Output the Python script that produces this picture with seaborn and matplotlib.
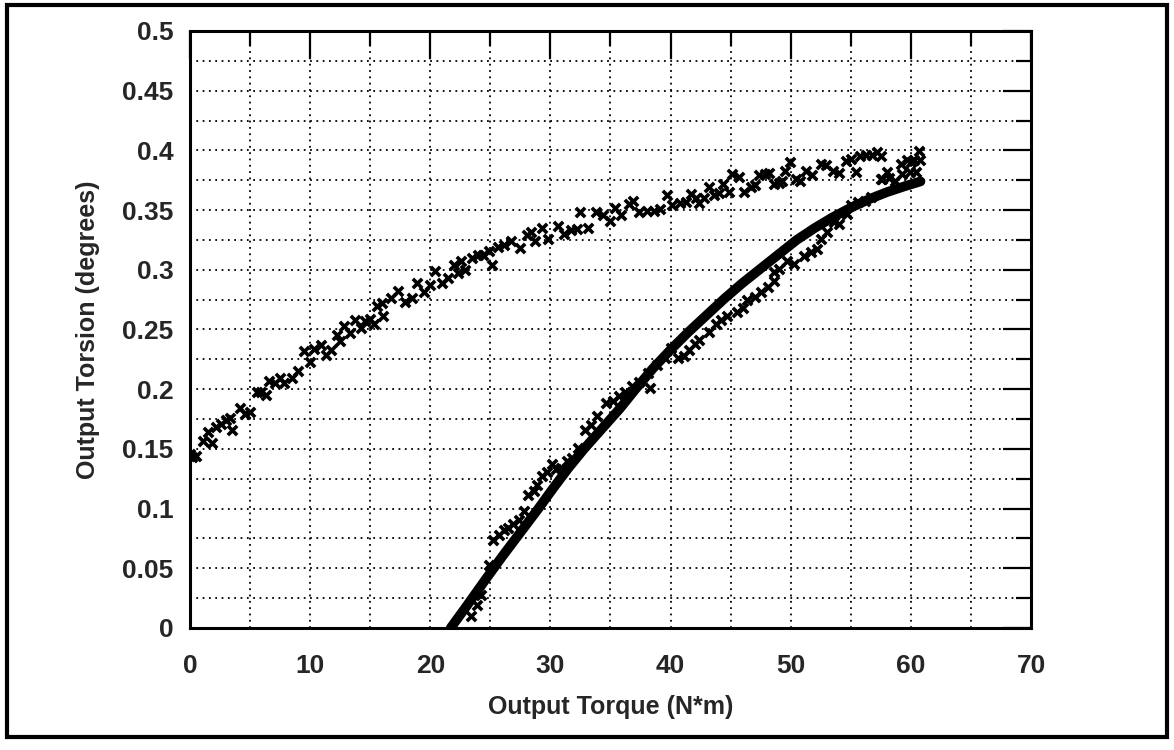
import matplotlib
matplotlib.use("Agg")
import matplotlib.pyplot as plt
import seaborn as sns
import numpy as np
import pandas as pd
from matplotlib.patches import Rectangle
from matplotlib.ticker import MultipleLocator

# --- values ---
# unloading branch (upper band of x marks)
upper_torque = [0.0, 0.2, 0.5, 1.06, 1.5, 1.8, 2.2, 2.6, 3.0, 3.3, 3.5, 4.2, 4.6, 5.0,
                5.6, 5.9, 6.3, 6.6, 7.1, 7.5, 7.8, 8.5, 9.0, 9.5, 10.0, 10.3, 10.9, 11.3,
                11.7, 12.2, 12.5, 12.8, 13.3, 13.75, 14.2, 14.6, 15.0, 15.3, 15.6, 16.0,
                16.1, 16.7, 17.3, 17.9, 18.5, 18.9, 19.5, 20.0, 20.4, 21.0, 21.5, 22.0,
                22.3, 22.6, 22.9, 23.5, 24.0, 24.4, 24.9, 25.1, 25.6, 26.1, 26.7, 27.5,
                28.05, 28.4, 28.7, 29.3, 29.8, 30.6, 31.1, 31.7, 32.2, 32.5, 33.1, 33.8,
                34.4, 35.0, 35.4, 35.9, 36.5, 36.9, 37.4, 38.0, 38.6, 39.1, 39.7, 40.1,
                40.8, 41.25, 41.7, 42.1, 42.4, 42.8, 43.2, 43.6, 44.0, 44.4, 44.9, 45.1,
                45.7, 46.1, 46.7, 47.0, 47.4, 47.9, 48.2, 48.6, 49.0, 49.3, 49.5, 49.9,
                50.4, 50.8, 51.25, 51.8, 52.5, 52.9, 53.5, 54.0, 54.6, 55.0, 55.4, 55.8,
                56.3, 56.8, 57.2, 57.5]
upper_torsion = [0.146, 0.143, 0.144, 0.157, 0.164, 0.155, 0.168, 0.171, 0.174, 0.176, 0.166,
                 0.184, 0.179, 0.181, 0.198, 0.198, 0.195, 0.207, 0.205, 0.209, 0.205, 0.209,
                 0.215, 0.232, 0.223, 0.234, 0.237, 0.229, 0.233, 0.2455, 0.240, 0.2525,
                 0.247, 0.258, 0.251, 0.257, 0.259, 0.255, 0.270, 0.272, 0.261, 0.276,
                 0.282, 0.273, 0.276, 0.289, 0.281, 0.287, 0.299, 0.289, 0.293, 0.304,
                 0.297, 0.307, 0.300, 0.310, 0.312, 0.312, 0.316, 0.304, 0.319, 0.3205,
                 0.324, 0.318, 0.3295, 0.332, 0.324, 0.335, 0.326, 0.337, 0.330, 0.333,
                 0.334, 0.348, 0.335, 0.348, 0.346, 0.341, 0.352, 0.346, 0.355, 0.358,
                 0.348, 0.349, 0.3495, 0.3505, 0.363, 0.3545, 0.356, 0.357, 0.3636, 0.360,
                 0.356, 0.360, 0.369, 0.3625, 0.364, 0.372, 0.365, 0.380, 0.378, 0.3655,
                 0.369, 0.371, 0.379, 0.380, 0.381, 0.372, 0.373, 0.374, 0.383, 0.390,
                 0.376, 0.374, 0.383, 0.379, 0.3886, 0.388, 0.383, 0.381, 0.3914, 0.393,
                 0.382, 0.3956, 0.396, 0.396, 0.399, 0.395]

# loading branch (lower band of x marks)
lower_torque = [23.4, 23.9, 24.25, 24.9, 25.2, 25.7, 26.1, 26.5, 26.9, 27.4, 27.8, 28.1,
                28.6, 28.9, 29.3, 29.75, 30.1, 30.5, 30.9, 31.4, 31.8, 32.3, 32.9, 33.4,
                33.9, 34.6, 35.2, 35.7, 36.25, 36.8, 37.4, 38.1, 38.3, 38.9, 39.5, 40.0,
                40.6, 41.1, 41.5, 42.0, 42.4, 43.2, 43.75, 44.2, 44.7, 45.55, 46.0, 46.4,
                47.0, 47.5, 48.1, 48.6, 48.6, 49.0, 49.7, 50.3, 51.1, 51.7, 52.2, 52.5,
                53.0, 53.6, 54.0, 54.7, 55.0, 55.6, 56.2, 56.7, 57.5, 58.0, 58.7, 59.3,
                59.9, 60.4, 60.0, 60.3, 60.7, 60.8, 57.6, 58.2, 59.2, 59.7]
lower_torsion = [0.010, 0.019, 0.028, 0.0525, 0.074, 0.0775, 0.0817, 0.084, 0.087, 0.0905,
                 0.098, 0.111, 0.115, 0.120, 0.1275, 0.131, 0.137, 0.133, 0.134, 0.140,
                 0.1425, 0.151, 0.166, 0.170, 0.1775, 0.1886, 0.190, 0.194, 0.198, 0.2025,
                 0.206, 0.2136, 0.201, 0.2206, 0.226, 0.2345, 0.226, 0.2275, 0.233, 0.238,
                 0.2414, 0.2475, 0.2545, 0.258, 0.261, 0.265, 0.268, 0.2747, 0.2775,
                 0.2817, 0.2858, 0.2906, 0.2978, 0.301, 0.307, 0.305, 0.3117, 0.315,
                 0.3178, 0.326, 0.332, 0.340, 0.3386, 0.347, 0.354, 0.357, 0.358, 0.361,
                 0.376, 0.3817, 0.3745, 0.380, 0.3817, 0.3817, 0.390, 0.392, 0.3997, 0.392,
                 0.376, 0.377, 0.389, 0.392]

# fitted curve (thick line), read along its centre
fit_torque = [21.7, 23.0, 24.7, 26.0, 27.5, 29.0, 30.3, 31.5, 32.8, 34.3, 35.8, 37.0, 38.5,
              40.0, 41.5, 43.0, 44.5, 46.0, 47.5, 49.0, 50.5, 52.0, 53.5, 55.0, 56.5, 58.0,
              59.5, 60.8]
fit_torsion = [0.0, 0.018, 0.042, 0.060, 0.080, 0.100, 0.118, 0.134, 0.150, 0.167, 0.184,
               0.199, 0.217, 0.233, 0.248, 0.262, 0.276, 0.289, 0.301, 0.313, 0.325, 0.335,
               0.344, 0.352, 0.359, 0.365, 0.370, 0.374]

x_ticks = [0, 10, 20, 30, 40, 50, 60, 70]
x_tick_labels = ["0", "10", "20", "30", "40", "50", "60", "70"]
y_ticks = [0, 0.05, 0.1, 0.15, 0.2, 0.25, 0.3, 0.35, 0.4, 0.45, 0.5]
y_tick_labels = ["0", "0.05", "0.1", "0.15", "0.2", "0.25", "0.3", "0.35", "0.4", "0.45", "0.5"]

sns.set_style("white")
plt.rcParams["font.family"] = ["Liberation Sans", "DejaVu Sans"]

marks = pd.concat([
    pd.DataFrame({"torque": upper_torque, "torsion": upper_torsion}),
    pd.DataFrame({"torque": lower_torque, "torsion": lower_torsion}),
])
fit = pd.DataFrame({"torque": fit_torque, "torsion": fit_torsion})

fig = plt.figure(figsize=(11.74, 7.5), dpi=100)
ax = fig.add_axes([0.1618, 0.1627, 0.7164, 0.796])

sns.scatterplot(data=marks, x="torque", y="torsion", marker="x", color="black",
                s=45, linewidth=2.6, ax=ax, zorder=3)
sns.lineplot(data=fit, x="torque", y="torsion", sort=False, estimator=None,
             color="black", linewidth=7, ax=ax, zorder=4,
             solid_capstyle="round", solid_joinstyle="round")

ax.set_xlim(0, 70)
ax.set_ylim(0, 0.5)
ax.set_xticks(x_ticks)
ax.set_xticklabels(x_tick_labels)
ax.set_yticks(y_ticks)
ax.set_yticklabels(y_tick_labels)
ax.xaxis.set_minor_locator(MultipleLocator(5))
ax.yaxis.set_minor_locator(MultipleLocator(0.025))

ax.grid(True, which="both", color="black", linewidth=1.3, linestyle=(0, (1, 2.5)))
ax.set_axisbelow(True)

ax.tick_params(which="both", direction="in", top=True, right=True, color="black")
ax.tick_params(which="major", length=20, width=1.6)
ax.tick_params(which="minor", length=10.5, width=1.6)
ax.tick_params(axis="x", which="major", pad=19)
ax.tick_params(axis="y", which="major", pad=12)
for lab in ax.get_xticklabels() + ax.get_yticklabels():
    lab.set_fontsize(19)
    lab.set_fontweight("bold")

for sp in ax.spines.values():
    sp.set_visible(True)
    sp.set_color("black")
    sp.set_linewidth(2.2)

ax.set_xlabel("Output Torque (N*m)", fontsize=18, fontweight="bold")
ax.set_ylabel("Output Torsion (degrees)", fontsize=18, fontweight="bold")
ax.xaxis.set_label_coords(0.5, -0.112)
ax.yaxis.set_label_coords(-0.107, 0.5)

# outer frame around the whole figure
fig.patches.append(Rectangle((0.006, 0.017), 0.988, 0.977, transform=fig.transFigure,
                             fill=False, edgecolor="black", linewidth=3))

fig.savefig("out.png", dpi=100)
plt.close(fig)
